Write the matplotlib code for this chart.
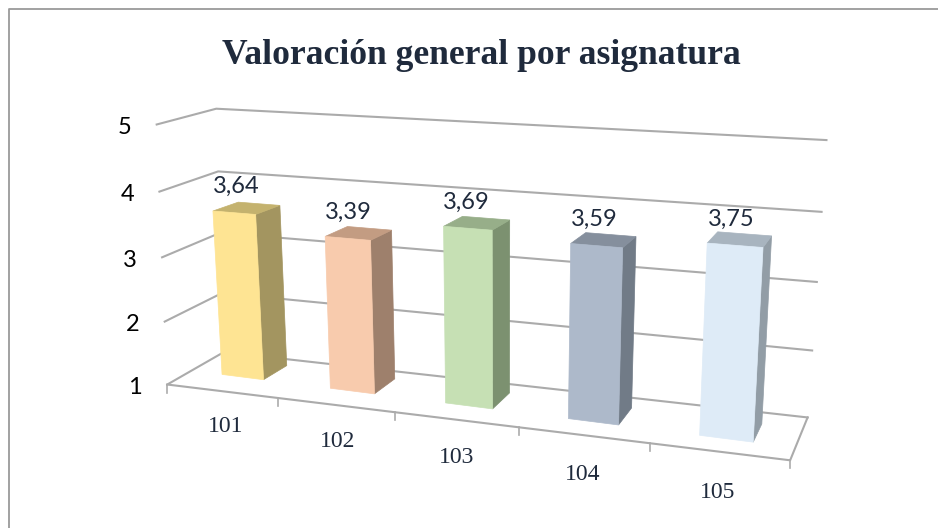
import numpy as np
import matplotlib
matplotlib.use('Agg')
import matplotlib.pyplot as plt
from matplotlib.patches import Polygon

categories = ['101', '102', '103', '104', '105']
values = [3.64, 3.39, 3.69, 3.59, 3.75]
value_labels = ['3,64', '3,39', '3,69', '3,59', '3,75']
axis_ticks = [1, 2, 3, 4, 5]
title = 'Valoración general por asignatura'

front_colors = ['#FEE493', '#F8CBAD', '#C6E0B4', '#ADB9CA', '#DEEBF7']
side_colors = ['#A39560', '#9E806C', '#7C9170', '#717B87', '#929DA6']
top_colors = ['#C4B26E', '#C39C82', '#97AE89', '#858F9D', '#A8B4BF']

GRID = '#ABABAB'
TEXT = '#1F2A3C'
BAR_L, BAR_R = 0.29, 0.68

# (x, depth, value) -> picture pixels, used to fit the perspective
# the walls and the bars do not share one camera in the picture, so two fits
wall_world = [(0, 0, 1), (5, 0, 1), (0, 1, 1), (5, 1, 1), (0, 0, 5), (0, 1, 5), (5, 1, 5),
              (0, 0, 3), (5, 1, 3)]
wall_px = [(171, 382), (790, 463), (220, 355), (808, 415), (153, 125), (220, 108), (826, 141),
           (162, 257), (817, 281)]
bar_world = [(0.29, 0, 1), (4.68, 0, 1), (0.29, 0, 3.64), (4.68, 0, 3.75), (0.68, 1, 1), (4.68, 1, 1),
             (0.68, 1, 3.64), (4.68, 1, 3.75), (0.29, 1, 3.64), (4.29, 1, 3.75),
             (2.29, 0, 1), (2.29, 0, 3.69), (2.68, 0, 1)]
bar_px = [(222, 376), (753, 442), (213, 211), (763, 247), (287, 364), (762, 425),
          (281, 206), (772, 236), (237, 202), (717, 232),
          (445, 403), (444, 226), (493, 408)]


def fit(world, px):
    rows = []
    rhs = []
    for (wx, wy, wz), (u, v) in zip(world, px):
        rows.append([wx, wy, wz, 1, 0, 0, 0, 0, -u*wx, -u*wy, -u*wz])
        rhs.append(u)
        rows.append([0, 0, 0, 0, wx, wy, wz, 1, -v*wx, -v*wy, -v*wz])
        rhs.append(v)
    sol = np.linalg.lstsq(np.array(rows, float), np.array(rhs, float), rcond=None)[0]
    return np.append(sol, 1).reshape(3, 4)


P_wall = fit(wall_world, wall_px)
P_bar = fit(bar_world, bar_px)


def proj(P, x, d, z):
    u = P @ np.array([x, d, z, 1.0])
    return u[0]/u[2], u[1]/u[2]


fig = plt.figure(figsize=(9.38, 5.28), dpi=100)
ax = fig.add_axes([0, 0, 1, 1])
ax.set_xlim(0, 938)
ax.set_ylim(528, 0)
ax.axis('off')

# chart frame, only left and top are inside the crop
ax.plot([9, 9, 938], [528, 8.5, 8.5], color='#9A9A9A', lw=1.3)

# walls: value gridlines
for z in axis_ticks:
    pts = [proj(P_wall, 0, 0, z), proj(P_wall, 0, 1, z), proj(P_wall, 5, 1, z)]
    ax.plot(*zip(*pts), color=GRID, lw=1.5, zorder=1, solid_joinstyle='miter')
    a = proj(P_wall, 0, 0, z)
    ax.text(a[0]-32, a[1]+3, str(z), ha='center', va='center', fontsize=17,
            family='Lato', color='black')

# floor
ax.plot(*zip(proj(P_wall, 0, 0, 1), proj(P_wall, 5, 0, 1), proj(P_wall, 5, 1, 1)),
        color=GRID, lw=1.5, zorder=1)
for i in range(6):
    a = proj(P_wall, i, 0, 1)
    ax.plot([a[0], a[0]], [a[1], a[1]+8], color=GRID, lw=1.2, zorder=1)
for i, c in enumerate(categories):
    a = proj(P_wall, i+0.5, 0, 1)
    # labels drift a little away from the axis to the right
    ax.text(a[0]+4-1.5*i, a[1]+35+1.5*i, c, ha='center', va='center', fontsize=17,
            family='Liberation Serif', color=TEXT)

# bars
for i, v in enumerate(values):
    x0, x1 = i+BAR_L, i+BAR_R
    front = [proj(P_bar, x0, 0, 1), proj(P_bar, x1, 0, 1), proj(P_bar, x1, 0, v), proj(P_bar, x0, 0, v)]
    side = [proj(P_bar, x1, 0, 1), proj(P_bar, x1, 1, 1), proj(P_bar, x1, 1, v), proj(P_bar, x1, 0, v)]
    top = [proj(P_bar, x0, 0, v), proj(P_bar, x1, 0, v), proj(P_bar, x1, 1, v), proj(P_bar, x0, 1, v)]
    ax.add_patch(Polygon(side, fc=side_colors[i], ec=side_colors[i], lw=0.5, zorder=3))
    ax.add_patch(Polygon(top, fc=top_colors[i], ec=top_colors[i], lw=0.5, zorder=3))
    ax.add_patch(Polygon(front, fc=front_colors[i], ec=front_colors[i], lw=0.5, zorder=4))
    c = proj(P_bar, (x0+x1)/2, 0, v)
    ax.text(c[0]+2-1.5*i, c[1]-26, value_labels[i], ha='center', va='center', fontsize=17,
            family='Lato', color=TEXT, zorder=5)

ax.text(481, 55, title, ha='center', va='center', fontsize=25.6,
        family='Liberation Serif', weight='bold', color=TEXT)

fig.savefig('out.png', dpi=100)
